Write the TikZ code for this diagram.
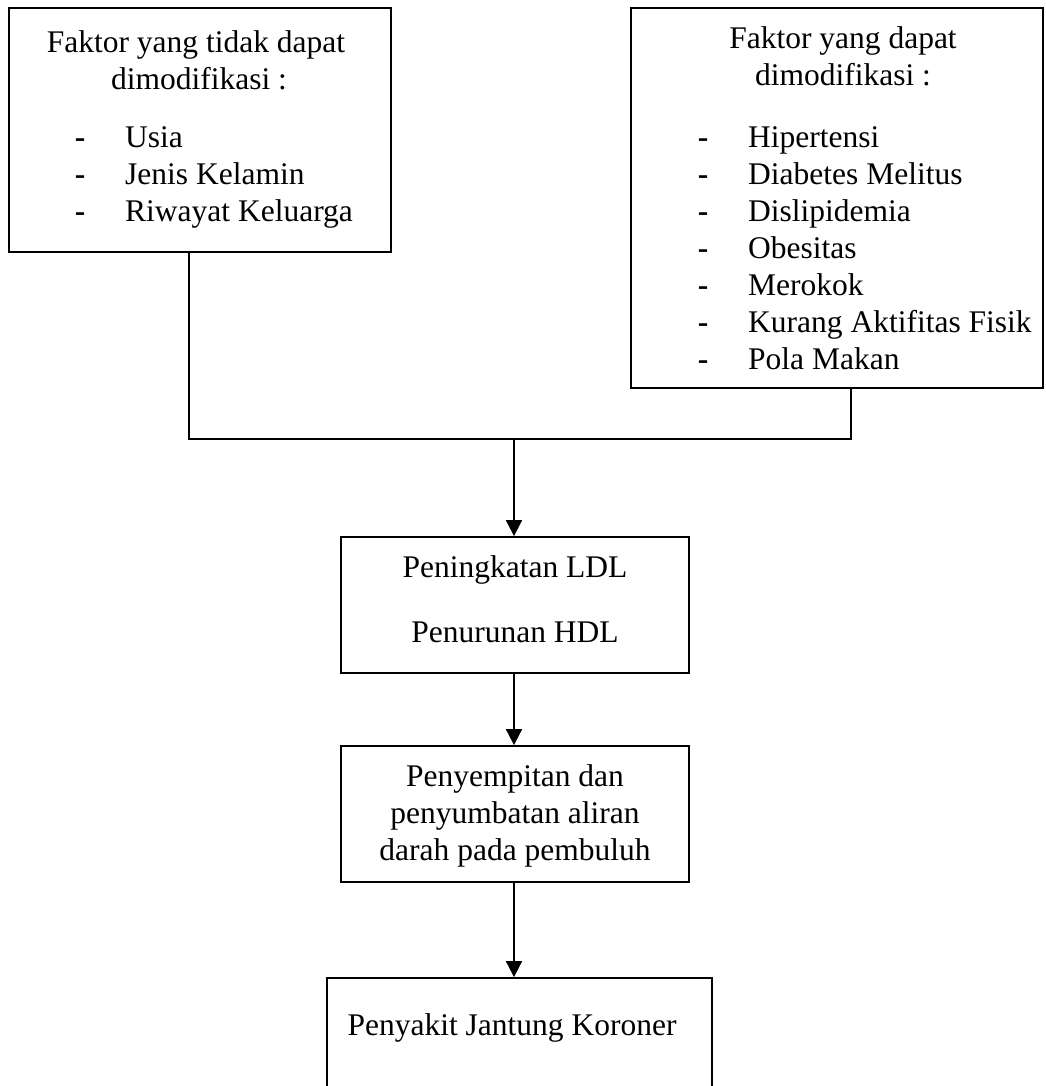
\documentclass[tikz,border=0pt]{standalone}
\usepackage{fontspec}
\setmainfont[Ligatures=NoCommon]{Liberation Serif}
\usetikzlibrary{arrows.meta}
\begin{document}
\begin{tikzpicture}[x=1pt,y=-1pt,
  box/.style={draw=black, line width=1.8pt, rectangle, inner sep=0pt},
  txt/.style={anchor=base, inner sep=0pt, font=\fontsize{31.5}{37}\selectfont},
  txtl/.style={anchor=base west, inner sep=0pt, font=\fontsize{31.5}{37}\selectfont},
  dashmark/.style={anchor=base, inner sep=0pt, font=\fontsize{31.5}{37}\selectfont\bfseries},
  conn/.style={line width=1.8pt},
  arr/.style={line width=1.8pt, -{Triangle[length=16pt,width=16pt]}}]
\clip (0,0) rectangle (1045,1086);
\fill[white] (0,0) rectangle (1045,1086);
% boxes
\node[box, minimum width=382pt, minimum height=244pt] (lbox) at (200,130) {};
\node[box, minimum width=412pt, minimum height=380pt] (rbox) at (837,198) {};
\node[box, minimum width=348pt, minimum height=136pt] (b2) at (515,605) {};
\node[box, minimum width=348pt, minimum height=136pt] (b3) at (515,814) {};
\node[box, minimum width=385pt, minimum height=122pt] (b4) at (519.5,1039) {};
% left box text
\node[txt] (l1) at (196,53) {Faktor yang tidak dapat};
\node[txt] (l2) at (199,90) {dimodifikasi :};
\node[dashmark] (ld1) at (80,148) {-};
\node[dashmark] (ld2) at (80,185) {-};
\node[dashmark] (ld3) at (80,222) {-};
\node[txtl] (li1) at (125,148) {Usia};
\node[txtl] (li2) at (125,185) {Jenis Kelamin};
\node[txtl] (li3) at (125,222) {Riwayat Keluarga};
% right box text
\node[txt] (r1) at (843,49) {Faktor yang dapat};
\node[txt] (r2) at (843,86) {dimodifikasi :};
\node[dashmark] (rd1) at (703,148) {-};
\node[dashmark] (rd2) at (703,185) {-};
\node[dashmark] (rd3) at (703,222) {-};
\node[dashmark] (rd4) at (703,258) {-};
\node[dashmark] (rd5) at (703,295) {-};
\node[dashmark] (rd6) at (703,332) {-};
\node[dashmark] (rd7) at (703,369) {-};
\node[txtl] (ri1) at (748,148) {Hipertensi};
\node[txtl] (ri2) at (748,185) {Diabetes Melitus};
\node[txtl] (ri3) at (748,222) {Dislipidemia};
\node[txtl] (ri4) at (748,258) {Obesitas};
\node[txtl] (ri5) at (748,295) {Merokok};
\node[txtl] (ri6) at (748,332) {Kurang Aktifitas Fisik};
\node[txtl] (ri7) at (748,369) {Pola Makan};
% middle boxes text
\node[txt] (t21) at (515,577) {Peningkatan LDL};
\node[txt] (t22) at (515,642) {Penurunan HDL};
\node[txt] (t31) at (515,786) {Penyempitan dan};
\node[txt] (t32) at (515,823) {penyumbatan aliran};
\node[txt] (t33) at (515,860) {darah pada pembuluh};
\node[txt] (t41) at (512,1035) {Penyakit Jantung Koroner};
% connectors
\coordinate (jl) at (189,439);
\coordinate (jr) at (851,439);
\coordinate (jm) at (514,439);
\draw[conn] (lbox.south -| jl) -- (jl) -- (jr) -- (rbox.south -| jr);
\draw[arr] (jm) -- (b2.north -| jm);
\draw[arr] (b2.south -| jm) -- (b3.north -| jm);
\draw[arr] (b3.south -| jm) -- (b4.north -| jm);
\end{tikzpicture}
\end{document}
